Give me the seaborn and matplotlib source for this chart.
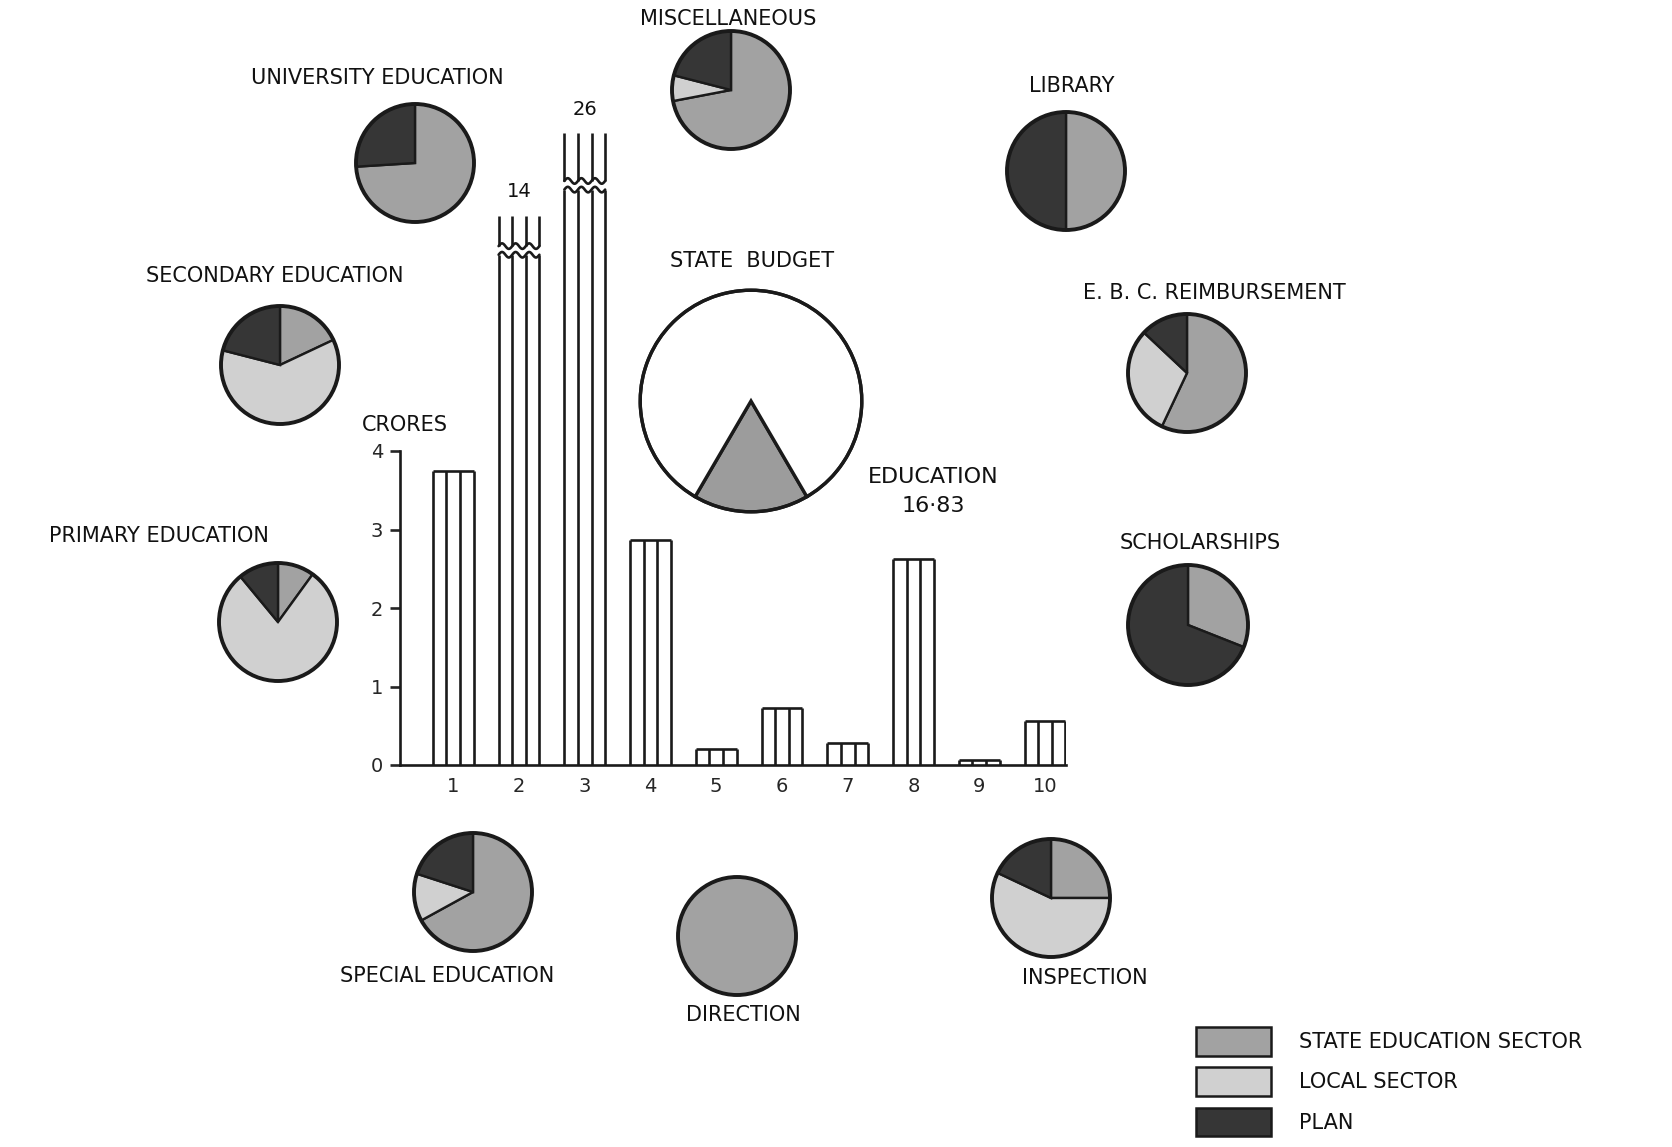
import numpy as np
import pandas as pd
import matplotlib
matplotlib.use("Agg")
import matplotlib.pyplot as plt
from matplotlib.patches import Patch, Circle
import seaborn as sns

W, H = 1672, 1147

# bar chart (crores)
bar_labels = ["1", "2", "3", "4", "5", "6", "7", "8", "9", "10"]
bar_values = [3.75, 14, 26, 2.87, 0.2, 0.72, 0.28, 2.62, 0.06, 0.56]
# bars 2 and 3 are cut off: drawn height and where the break sits
bar_shown = [3.75, 7.0, 8.05, 2.87, 0.2, 0.72, 0.28, 2.62, 0.06, 0.56]
bar_break = [None, 6.5, 7.33, None, None, None, None, None, None, None]
y_ticks = [0, 1, 2, 3, 4]

# state budget share
budget_share = [16.83, 100 - 16.83]

# sector split of each head (percent)
sectors = ["STATE EDUCATION SECTOR", "LOCAL SECTOR", "PLAN"]
sector_colors = ["#a2a2a2", "#d0d0d0", "#363636"]
pie_names = ["MISCELLANEOUS", "UNIVERSITY EDUCATION", "LIBRARY",
             "SECONDARY EDUCATION", "E. B. C. REIMBURSEMENT", "PRIMARY EDUCATION",
             "SCHOLARSHIPS", "SPECIAL EDUCATION", "DIRECTION", "INSPECTION"]
pie_state = [72, 74, 50, 18, 57, 10, 31, 67, 100, 25]
pie_local = [7, 0, 0, 61, 30, 79, 0, 13, 0, 57]
pie_plan = [21, 26, 50, 21, 13, 11, 69, 20, 0, 18]

# layout in pixels: pie centre x, y, radius, title x, title y
pie_layout = {
    "MISCELLANEOUS": (731, 90, 59, 728, 19),
    "UNIVERSITY EDUCATION": (415, 163, 59, 377, 78),
    "LIBRARY": (1066, 171, 59, 1072, 86),
    "SECONDARY EDUCATION": (280, 365, 59, 275, 276),
    "E. B. C. REIMBURSEMENT": (1187, 373, 59, 1214, 293),
    "PRIMARY EDUCATION": (278, 622, 59, 159, 536),
    "SCHOLARSHIPS": (1188, 625, 60, 1200, 543),
    "SPECIAL EDUCATION": (473, 892, 59, 447, 976),
    "DIRECTION": (737, 936, 59, 743, 1015),
    "INSPECTION": (1051, 898, 59, 1085, 978),
}

sns.set_theme(style="white")
plt.rcParams['font.family'] = ['DejaVu Sans']

fig = plt.figure(figsize=(W / 100, H / 100), dpi=100)
fig.patch.set_facecolor("white")


def place(cx, cy, r):
    return fig.add_axes([(cx - r) / W, 1 - (cy + r) / H, 2 * r / W, 2 * r / H])


def ftext(x, y, s, **kw):
    fig.text(x / W, 1 - y / H, s, ha="center", va="center", color="#111111", **kw)


# --- bars
unit = 78.5
ax = fig.add_axes([400 / W, 1 - 765 / H, (1066 - 400) / W, 707 / H])
ax.patch.set_alpha(0)
df = pd.DataFrame({"item": bar_labels, "shown": bar_shown})
sns.barplot(data=df, x="item", y="shown", color="white", width=0.62,
            linewidth=0, saturation=1, ax=ax)
ax.set_xlim(-0.81, 9.32)
ax.set_ylim(0, 707 / unit)

lw = 1.9
patches = sorted(ax.patches, key=lambda p: p.get_x())
for i, (p, brk) in enumerate(zip(patches, bar_break)):
    x0, w, h = p.get_x(), p.get_width(), p.get_height()
    xs = x0 + w * np.array([0, 1 / 3, 2 / 3, 1])
    if brk is None:
        ax.vlines(xs, 0, h, color="k", lw=lw)
        ax.hlines(h, x0, x0 + w, color="k", lw=lw)
    else:
        gap = 0.11
        t = np.linspace(0, 1, 120)
        wave = 0.035 * np.sin(2 * np.pi * 3 * t)
        ax.vlines(xs, 0, brk, color="k", lw=lw)
        ax.vlines(xs, brk + gap, h, color="k", lw=lw)
        ax.plot(x0 + w * t, brk + wave, color="k", lw=lw)
        ax.plot(x0 + w * t, brk + gap + wave, color="k", lw=lw)
        ax.text(p.get_x() + w / 2, h + 0.18, f"{bar_values[i]}", ha="center",
                va="bottom", fontsize=14, color="#111111")

sns.despine(ax=ax, top=True, right=True)
ax.spines["left"].set_bounds(0, 4)
for s in ["left", "bottom"]:
    ax.spines[s].set_linewidth(1.9)
    ax.spines[s].set_color("k")
ax.set_yticks(y_ticks)
ax.tick_params(axis="y", length=7, width=1.9, labelsize=14, pad=5, left=True)
ax.tick_params(axis="x", length=0, labelsize=14, pad=9)
ax.set_xlabel("")
ax.set_ylabel("")
ftext(405, 425, "CRORES", fontsize=15)

# --- state budget
axb = place(751, 401, 113)
axb.pie(budget_share, colors=["#9c9c9c", "white"],
        startangle=270 - budget_share[0] * 3.6 / 2,
        wedgeprops=dict(edgecolor="k", linewidth=2.4))
axb.add_patch(Circle((0, 0), 1, fill=False, edgecolor="k", lw=2.4))
axb.set_xlim(-1.02, 1.02)
axb.set_ylim(-1.02, 1.02)
ftext(752, 261, "STATE  BUDGET", fontsize=15)
ftext(933, 477, "EDUCATION", fontsize=16)
ftext(933, 506, "16·83", fontsize=16)

# --- sector pies
for name, s, l, pl in zip(pie_names, pie_state, pie_local, pie_plan):
    cx, cy, r, tx, ty = pie_layout[name]
    axp = place(cx, cy, r * 1.03)
    vals = [(v, c) for v, c in zip([s, l, pl], sector_colors) if v > 0]
    axp.pie([v for v, _ in vals], colors=[c for _, c in vals], startangle=90,
            counterclock=False, wedgeprops=dict(edgecolor="k", linewidth=1.7))
    axp.add_patch(Circle((0, 0), 1, fill=False, edgecolor="k", lw=2.8))
    axp.set_xlim(-1.03, 1.03)
    axp.set_ylim(-1.03, 1.03)
    ftext(tx, ty, name, fontsize=15)

# --- legend
handles = [Patch(facecolor=c, edgecolor="k", linewidth=1.8, label=s)
           for s, c in zip(sectors, sector_colors)]
leg = fig.legend(handles=handles, loc="upper left",
                 bbox_to_anchor=(1196 / W, 1 - 1027 / H), frameon=False,
                 fontsize=15, handlelength=3.6, handleheight=1.75,
                 handletextpad=1.35, labelspacing=0.55, borderaxespad=0,
                 borderpad=0)
for t in leg.get_texts():
    t.set_color("#111111")

fig.savefig("out.png", dpi=100, facecolor="white")
